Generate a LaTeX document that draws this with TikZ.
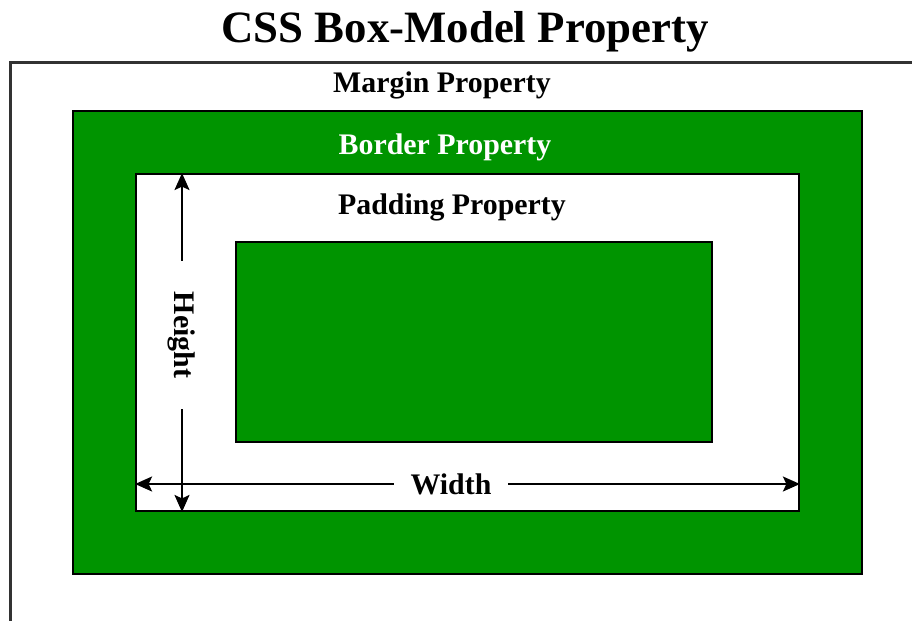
\documentclass[tikz,border=0pt]{standalone}
\usepackage{fontspec}
\setmainfont{Liberation Serif}
\usepackage{xcolor}
\definecolor{verdeBox}{RGB}{0,148,0}
\definecolor{moldura}{RGB}{50,50,50}
\usepackage{tikz}
\usetikzlibrary{arrows.meta,positioning,calc}

\begin{document}
\begin{tikzpicture}[x=0.02cm,y=-0.02cm,
            caixa/.style={draw=black,line width=1.1pt,inner sep=0pt},
            rotulo/.style={font=\bfseries\fontsize{17}{20}\selectfont,text=black},
            seta/.style={-{Stealth[length=0.34cm,width=0.3cm,inset=0.07cm]},black,line width=1.1pt}
            ]
            \useasboundingbox (0,0) rectangle (912,620);

            % margem: so aparecem os lados de cima e da esquerda
            \draw[moldura,line width=1.2pt] (10.5,625) |- (915,62.5);

            \node[caixa,fill=verdeBox,minimum width=15.78cm,minimum height=9.26cm]
            (borda) at (467.5,342.5) {};
            \node[caixa,fill=white,minimum width=13.26cm,minimum height=6.74cm]
            (pad) at (467.5,342.5) {};
            \node[caixa,fill=verdeBox,minimum width=9.52cm,minimum height=4cm]
            (cont) at (474,342) {};

            \node[font=\bfseries\fontsize{25.5}{30}\selectfont] (titulo) at (465,32) {CSS Box-Model Property};
            \node[rotulo] (margem) at (442,85) {Margin Property};
            \node[rotulo,text=white] (bordatxt) at (445,147) {Border Property};
            \node[rotulo] (padtxt) at (452,207) {Padding Property};

            \node[rotulo,rotate=-90,inner xsep=0.62cm,inner ysep=0pt] (alt) at (182,335) {Height};
            \node[rotulo,inner xsep=0.33cm,inner ysep=0pt] (larg) at (451,484) {Width};

            \draw[seta] (alt.west) -- (alt.west |- pad.north);
            \draw[seta] (alt.east) -- (alt.east |- pad.south);
            \draw[seta] (larg.west) -- (larg.west -| pad.west);
            \draw[seta] (larg.east) -- (larg.east -| pad.east);
          \end{tikzpicture}
\end{document}
